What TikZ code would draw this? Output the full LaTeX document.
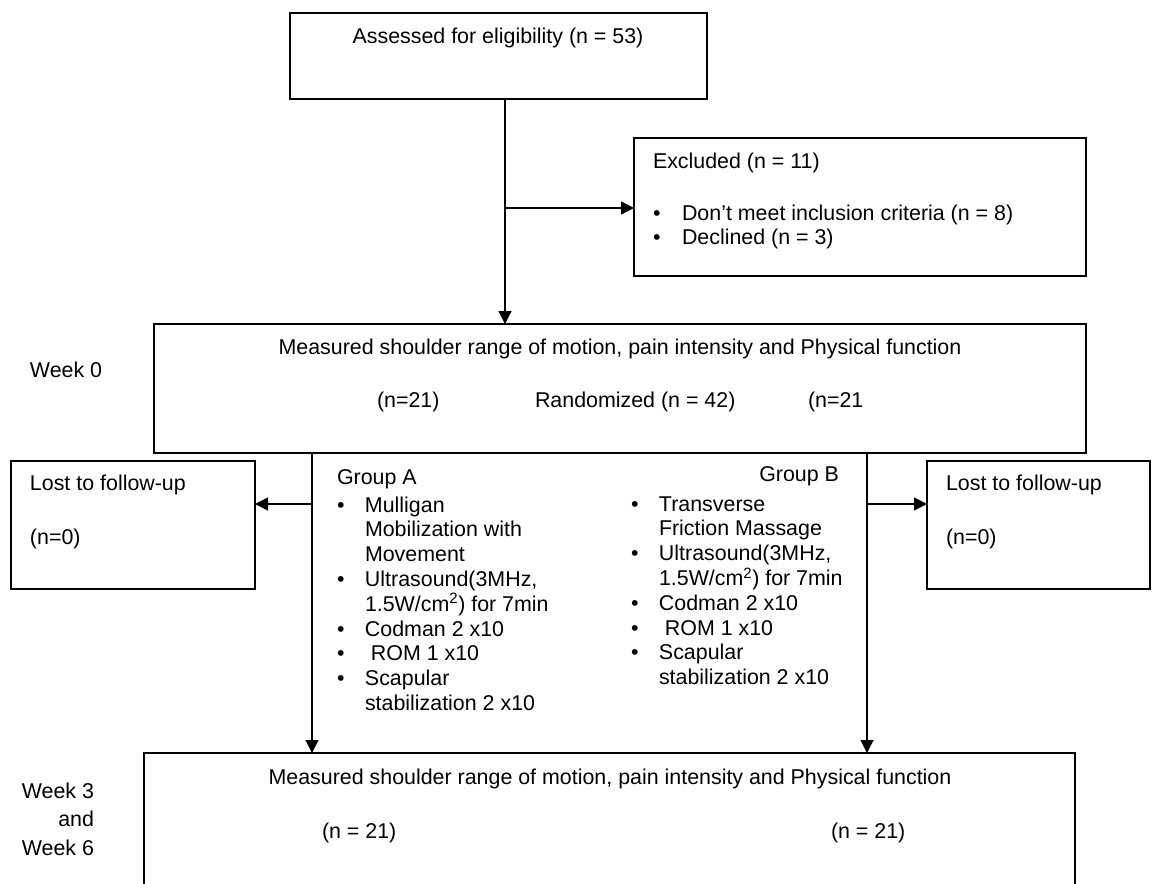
\documentclass[tikz,border=0pt]{standalone}
\usepackage{fontspec}
\setmainfont{Liberation Sans}
\usetikzlibrary{arrows.meta}
\begin{document}
\begin{tikzpicture}[x=1pt,y=-1pt,
  font=\fontsize{21.4pt}{24.7pt}\selectfont,
  box/.style={draw, line width=1.2pt, inner sep=0pt, outer sep=0pt},
  txt/.style={inner sep=0pt, outer sep=0pt},
  conn/.style={line width=1.2pt},
  arr/.style={line width=1.2pt, -{Triangle[length=13pt,width=13pt]}}]
\useasboundingbox (0,0) rectangle (1160,884);
\clip (0,0) rectangle (1160,884);
% boxes
\node[box, minimum width=417pt, minimum height=86pt] (top) at (498.5,56) {};
\node[box, minimum width=452pt, minimum height=138pt] (excl) at (860,207) {};
\node[box, minimum width=932pt, minimum height=129pt] (main) at (620,388.5) {};
\node[box, minimum width=244pt, minimum height=128pt] (lostL) at (133,525) {};
\node[box, minimum width=223pt, minimum height=128pt] (lostR) at (1038.5,525) {};
\node[box, minimum width=931pt, minimum height=247pt] (bottom) at (609.5,876.5) {};
% texts
\node[txt, anchor=base] (tTop) at (498,43) {Assessed for eligibility (n = 53)};
\node[txt, anchor=base west] (tExcl) at (653,168) {Excluded (n = 11)};
\node[txt, anchor=base west] (tExclList) at (653,220)
  {\begin{tabular}[t]{@{}p{29pt}@{}l@{}}•&Don’t meet inclusion criteria (n = 8)\\ •&Declined (n = 3)\end{tabular}};
\node[txt, anchor=base west] (tW0) at (30,377) {Week 0};
\node[txt, anchor=base] (tMain) at (620,354) {Measured shoulder range of motion, pain intensity and Physical function};
\node[txt, anchor=base west] (tN1) at (377,407) {(n=21)};
\node[txt, anchor=base west] (tRand) at (535,407) {Randomized (n = 42)};
\node[txt, anchor=base west] (tN2) at (808,407) {(n=21};
\node[txt, anchor=base west] (tLostL) at (30,490) {Lost to follow-up};
\node[txt, anchor=base west] (tLostLn) at (30,544) {(n=0)};
\node[txt, anchor=base west] (tLostR) at (946,490) {Lost to follow-up};
\node[txt, anchor=base west] (tLostRn) at (946,544) {(n=0)};
\node[txt, anchor=base west] (tGA) at (337,484) {Group A};
\node[txt, anchor=base west] (tListA) at (337,512)
  {\begin{tabular}[t]{@{}p{28pt}@{}l@{}}•&Mulligan\\ &Mobilization with\\ &Movement\\
   •&Ultrasound(3MHz,\\ &1.5W/cm\textsuperscript{2}) for 7min\\ •&Codman 2 x10\\ •&\ ROM 1 x10\\
   •&Scapular\\ &stabilization 2 x10\end{tabular}};
\node[txt, anchor=base east] (tGB) at (839,481) {Group B};
\node[txt, anchor=base west] (tListB) at (631,511)
  {\begin{tabular}[t]{@{}p{28pt}@{}l@{}}•&Transverse\\ &Friction Massage\\
   •&Ultrasound(3MHz,\\ &1.5W/cm\textsuperscript{2}) for 7min\\ •&Codman 2 x10\\ •&\ ROM 1 x10\\
   •&Scapular\\ &stabilization 2 x10\end{tabular}};
\node[txt, anchor=base east] (tW3) at (94,798) {Week 3};
\node[txt, anchor=base east] (tAnd) at (94,826) {and};
\node[txt, anchor=base east] (tW6) at (94,855) {Week 6};
\node[txt, anchor=base] (tBot) at (610,784) {Measured shoulder range of motion, pain intensity and Physical function};
\node[txt, anchor=base west] (tB1) at (322,838) {(n = 21)};
\node[txt, anchor=base west] (tB2) at (831,838) {(n = 21)};
% connectors
\coordinate (ax) at (505,0);
\coordinate (axb) at (505,208);
\coordinate (ga) at (312,0);
\coordinate (gab) at (312,504);
\coordinate (gb) at (867,0);
\coordinate (gbb) at (867,504);
\draw[arr] (top.south -| ax) -- (main.north -| ax);
\draw[arr] (axb) -- (excl.west |- axb);
\draw[arr] (main.south -| ga) -- (bottom.north -| ga);
\draw[arr] (gab) -- (lostL.east |- gab);
\draw[arr] (main.south -| gb) -- (bottom.north -| gb);
\draw[arr] (gbb) -- (lostR.west |- gbb);
\end{tikzpicture}
\end{document}
